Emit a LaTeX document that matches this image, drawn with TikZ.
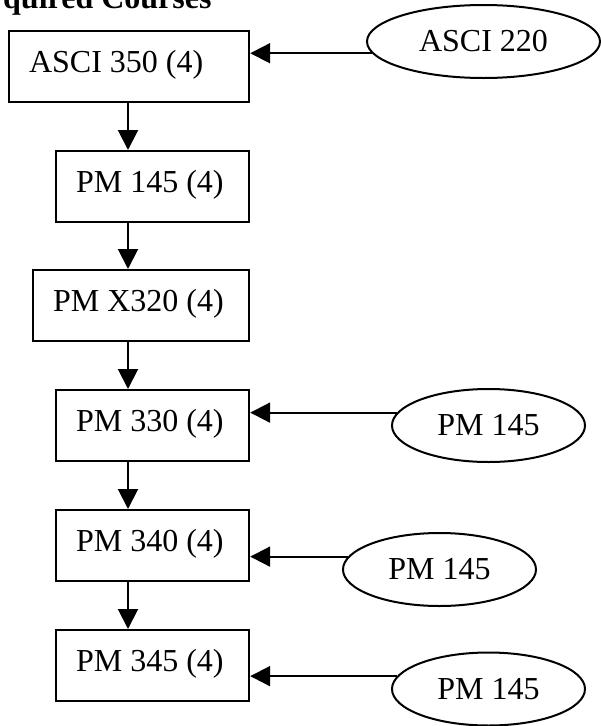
\documentclass[tikz,border=0pt]{standalone}
\usepackage{fontspec}
\setmainfont{Liberation Serif}
\usetikzlibrary{shapes, arrows.meta, positioning}

\begin{document}
\begin{tikzpicture}[x=1pt, y=1pt, >={Triangle[length=20pt, width=20pt]}]
    \tikzset{
        course/.style={draw, line width=2.2pt, rectangle, anchor=north west,
            align=flush left, inner xsep=20pt, inner ysep=0pt,
            text height=41pt, text depth=30pt,
            font=\fontsize{32}{38}\selectfont},
        prereq/.style={draw, line width=2pt, ellipse, inner sep=0pt,
            minimum width=193pt, minimum height=73pt,
            font=\fontsize{32}{38}\selectfont},
        flow/.style={->, line width=2pt},
        title_label/.style={anchor=base west, inner sep=0pt,
            font=\fontsize{32}{38}\selectfont\bfseries}
    }
    \clip (0,0) rectangle (601,-726);

    \node[title_label] (title) at (3,-8) {quired Courses};

    % required sequence
    \node[course, text width=200pt] (asci350) at (8,-30) {ASCI 350 (4)};
    \node[course, text width=153pt] (pm145) at (55,-150) {PM 145 (4)};
    \node[course, text width=176pt] (pmx320) at (32,-269) {PM X320 (4)};
    \node[course, text width=153pt] (pm330) at (55,-389) {PM 330 (4)};
    \node[course, text width=153pt] (pm340) at (55,-509) {PM 340 (4)};
    \node[course, text width=153pt] (pm345) at (55,-629) {PM 345 (4)};
    \coordinate (spine) at (128,0);

    \draw[flow] (spine |- asci350.south) -- (spine |- pm145.north);
    \draw[flow] (spine |- pm145.south) -- (spine |- pmx320.north);
    \draw[flow] (spine |- pmx320.south) -- (spine |- pm330.north);
    \draw[flow] (spine |- pm330.south) -- (spine |- pm340.north);
    \draw[flow] (spine |- pm340.south) -- (spine |- pm345.north);

    % prerequisites
    \node[prereq, minimum width=233pt] (asci220) at (483.5,-41.5) {ASCI 220};
    \node[prereq] (pre330) at (488.5,-425.5) {PM 145};
    \node[prereq] (pre340) at (439.5,-569.5) {PM 145};
    \node[prereq] (pre345) at (488.5,-689) {PM 145};

    \draw[flow] (asci220.186) -- (asci220.186 -| asci350.east);
    \draw[flow] (pre330.172) -- (pre330.172 -| pm330.east);
    \draw[flow] (pre340.172) -- (pre340.172 -| pm340.east);
    \draw[flow] (pre345.172) -- (pre345.172 -| pm345.east);
\end{tikzpicture}
\end{document}
